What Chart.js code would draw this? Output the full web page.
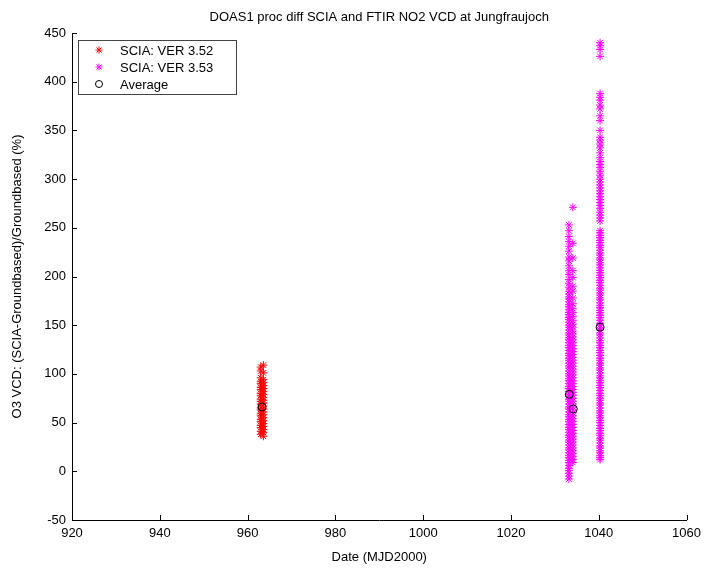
<!DOCTYPE html>
<html lang="en">
<head>
<meta charset="UTF-8">
<title>DOAS1 proc diff SCIA and FTIR NO2 VCD at Jungfraujoch</title>
<script src="https://cdn.jsdelivr.net/npm/chart.js"></script>
<style>
    html, body { margin: 0; padding: 0; background: #fff; }
    canvas { display: block; }
</style>
</head>
<body>
<canvas id="scatter" width="707" height="571"></canvas>
<script>
    // dates (MJD2000) of each group of measurements
    const dayVer352a = 963.0;
    const dayVer352b = 963.6;
    const dayVer353a = 1033.2;
    const dayVer353b = 1034.1;
    const dayVer353c = 1040.3;

    // relative difference (%)
    const ver352a = [107, 103, 96, 92, 90, 86, 84, 80, 78, 74, 72, 69, 65, 63, 59, 57, 53, 51, 47, 45, 41, 38];
    const ver352b = [109, 101, 94, 91, 88, 85, 82, 79, 76, 73, 70, 67, 64, 61, 58, 55, 52, 49, 46, 43, 40, 36];
    const ver353a = [253, 247, 241, 236, 231, 226, 220, 216, 211, 206, 202, 197, 193, 189, 185,
                     182, 179, 177, 174, 171, 169, 166, 163, 161, 158, 156, 153, 150, 148, 145, 142, 140,
                     137, 135, 132, 129, 127, 124, 121, 119, 116, 114, 111, 108, 106, 103, 100, 98, 95, 93,
                     90, 87, 85, 82, 79, 77, 74, 72, 69, 66, 64, 61, 58, 56, 53, 51, 48, 45, 43, 40, 37,
                     35, 32, 30, 27, 24, 22, 19, 16, 14, 11, 9, 6, 3, 1, -2, -5, -8];
    const ver353b = [271, 234, 219, 206, 199, 190, 185, 178, 172, 167, 163, 159, 155, 151, 148, 144, 141,
                     138, 135, 132, 129, 126, 123, 120, 117, 114, 111, 108, 105, 102, 99, 96, 93, 90, 87,
                     84, 81, 78, 75, 72, 69, 66, 63, 60, 57, 54, 51, 48, 45, 42, 39, 36, 33, 30, 27, 24,
                     21, 18, 15, 12, 9];
    const ver353c = [440, 437, 433, 426, 388, 384, 381, 376, 372, 365, 360, 350, 343, 340, 336, 332, 327,
                     322, 318, 315, 312, 308, 304, 300, 297, 294, 291, 288, 285, 282, 279, 276, 273, 270,
                     266, 263, 260, 257,
                     247, 245, 242, 240, 237, 235, 232, 230, 227, 224, 222, 219, 217, 214, 212, 209, 206,
                     204, 201, 199, 196, 194, 191, 188, 186, 183, 181, 178, 176, 173, 170, 168, 165, 163,
                     160, 158, 155, 152, 150, 147, 145, 142, 140, 137, 134, 132, 129, 127, 124, 122, 119,
                     116, 114, 111, 109, 106, 104, 101, 98, 96, 93, 91, 88, 86, 83, 80, 78, 75, 73, 70,
                     68, 65, 62, 60, 57, 55, 52, 50, 47, 44, 42, 39, 37, 34, 32, 29, 26, 24, 21, 19, 16,
                     14, 12];

    const avgDays = [963.3, 1033.3, 1034.2, 1040.3];
    const avgVals = [66, 79, 64, 148];

    const xTicks = [920, 940, 960, 980, 1000, 1020, 1040, 1060];
    const yTicks = [-50, 0, 50, 100, 150, 200, 250, 300, 350, 400, 450];

    const legendNames = ['SCIA: VER 3.52', 'SCIA: VER 3.53', 'Average'];
    const chartTitle = 'DOAS1 proc diff SCIA and FTIR NO2 VCD at Jungfraujoch';

    const FONT = '"Liberation Sans", Arial, sans-serif';

    function pts(day, vals) {
        return vals.map(v => ({ x: day, y: v }));
    }

    const starStyle = (color) => ({
        pointStyle: 'star',
        pointRadius: 4,
        pointBorderWidth: 1,
        borderColor: color,
        backgroundColor: color,
        showLine: false
    });

    // title, inward ticks and boxed legend like the matlab figure
    const matlabLook = {
        id: 'matlabLook',
        afterDraw(chart) {
            const ctx = chart.ctx;
            const area = chart.chartArea;
            const xs = chart.scales.x, ys = chart.scales.y;
            ctx.save();
            ctx.strokeStyle = '#000';
            ctx.lineWidth = 1;
            ctx.beginPath();
            xTicks.forEach(t => {
                const px = Math.round(xs.getPixelForValue(t)) + 0.5;
                ctx.moveTo(px, area.bottom);
                ctx.lineTo(px, area.bottom - 5);
            });
            yTicks.forEach(t => {
                const py = Math.round(ys.getPixelForValue(t)) + 0.5;
                ctx.moveTo(area.left, py);
                ctx.lineTo(area.left + 5, py);
            });
            ctx.stroke();

            ctx.fillStyle = '#000';
            ctx.font = '13px ' + FONT;
            ctx.textAlign = 'center';
            ctx.textBaseline = 'middle';
            ctx.fillText(chartTitle, (area.left + area.right) / 2, 17);

            // legend box
            const lx = 78.5, ly = 40.5, lw = 158, lh = 54;
            ctx.fillStyle = '#fff';
            ctx.fillRect(lx, ly, lw, lh);
            ctx.strokeStyle = '#444';
            ctx.strokeRect(lx, ly, lw, lh);
            const marks = [
                { pointStyle: 'star', color: '#ff0000' },
                { pointStyle: 'star', color: '#ff00ff' },
                { pointStyle: 'circle', color: '#000' }
            ];
            ctx.textAlign = 'left';
            legendNames.forEach((name, i) => {
                const y = 50 + i * 17;
                const m = marks[i];
                ctx.strokeStyle = m.color;
                ctx.fillStyle = m.pointStyle === 'circle' ? 'rgba(0,0,0,0)' : m.color;
                ctx.lineWidth = 1;
                Chart.helpers.drawPoint(ctx, { pointStyle: m.pointStyle, radius: 3.5, rotation: 0, borderWidth: 1 }, 99, y);
                ctx.fillStyle = '#000';
                ctx.fillText(name, 120, y + 1);
            });
            ctx.restore();
        }
    };

    const plainNum = (v) => String(v);

    const ctx = document.getElementById('scatter').getContext('2d');
    const chart = new Chart(ctx, {
        type: 'scatter',
        data: {
            datasets: [
                Object.assign({ label: legendNames[0], order: 2,
                    data: pts(dayVer352a, ver352a).concat(pts(dayVer352b, ver352b)) }, starStyle('#ff0000')),
                Object.assign({ label: legendNames[1], order: 1,
                    data: pts(dayVer353a, ver353a).concat(pts(dayVer353b, ver353b), pts(dayVer353c, ver353c)) },
                    starStyle('#ff00ff')),
                {
                    label: legendNames[2],
                    order: 0,
                    data: avgDays.map((d, i) => ({ x: d, y: avgVals[i] })),
                    pointStyle: 'circle',
                    pointRadius: 4,
                    pointBorderWidth: 1,
                    borderColor: '#000',
                    backgroundColor: 'rgba(0,0,0,0)'
                }
            ]
        },
        options: {
            responsive: false,
            animation: false,
            events: [],
            layout: { padding: { left: 0, right: 16, top: 33, bottom: 0 } },
            plugins: {
                legend: { display: false },
                tooltip: { enabled: false },
                title: { display: false }
            },
            scales: {
                x: {
                    type: 'linear',
                    min: 920,
                    max: 1060,
                    afterBuildTicks: (s) => { s.ticks = xTicks.map(v => ({ value: v })); },
                    afterFit: (s) => { s.height = 51; },
                    grid: { display: false, drawTicks: false, tickLength: 0 },
                    border: { display: true, color: '#000', width: 1 },
                    ticks: { color: '#000', padding: 6, maxRotation: 0, callback: plainNum,
                             font: { family: FONT, size: 13 } },
                    title: {
                        display: true,
                        text: 'Date (MJD2000)',
                        color: '#000',
                        font: { family: FONT, size: 13 },
                        padding: { top: 0, bottom: 6 }
                    }
                },
                y: {
                    type: 'linear',
                    min: -50,
                    max: 450,
                    afterBuildTicks: (s) => { s.ticks = yTicks.map(v => ({ value: v })); },
                    afterFit: (s) => { s.width = 72; },
                    grid: { display: false, drawTicks: false, tickLength: 0 },
                    border: { display: true, color: '#000', width: 1 },
                    ticks: { color: '#000', padding: 6, callback: plainNum,
                             font: { family: FONT, size: 13 } },
                    title: {
                        display: true,
                        text: 'O3 VCD: (SCIA-Groundbased)/Groundbased (%)',
                        color: '#000',
                        font: { family: FONT, size: 13 },
                        padding: { top: 10, bottom: 0 }
                    }
                }
            }
        },
        plugins: [matlabLook]
    });
</script>
</body>
</html>
